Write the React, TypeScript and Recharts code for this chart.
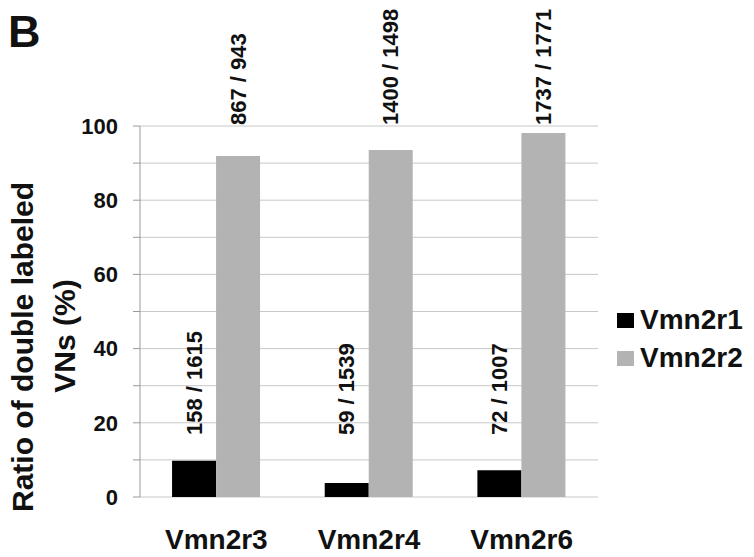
import React from 'react';
import { BarChart, Bar, XAxis, YAxis, CartesianGrid, Legend, LabelList } from 'recharts';

const categories = ['Vmn2r3', 'Vmn2r4', 'Vmn2r6'];
const vmn2r1 = [9.8, 3.8, 7.2];
const vmn2r2 = [91.9, 93.5, 98.1];
const vmn2r1Counts = ['158 / 1615', '59 / 1539', '72 / 1007'];
const vmn2r2Counts = ['867 / 943', '1400 / 1498', '1737 / 1771'];
const yTicks = [0, 10, 20, 30, 40, 50, 60, 70, 80, 90, 100];
const edgeTicks = [0, 1, 2, 3];

const FONT = '"Liberation Sans", Arial, Helvetica, sans-serif';
const INK = '#111';
const BLACK = '#000000';
const GREY = '#b3b3b3';

const W = 754;
const H = 557;
const MARGIN = { top: 126, right: 18, bottom: 0, left: 0 };
const PLOT_H = 371;

const data = categories.map((name, i) => ({
  name,
  Vmn2r1: vmn2r1[i],
  Vmn2r2: vmn2r2[i],
  r1Count: vmn2r1Counts[i],
  r2Count: vmn2r2Counts[i],
}));

// rotated count label, placed a fixed distance above the bar's base
const countLabel = (fromBase: number) => (props: any) => {
  const { x, y, width, height, value } = props;
  const cx = Number(x) + Number(width) / 2;
  const ty = Number(y) + Number(height) - fromBase;
  return (
    <text
      x={cx}
      y={ty}
      transform={`rotate(-90 ${cx} ${ty})`}
      textAnchor="start"
      dominantBaseline="central"
      fontFamily={FONT}
      fontWeight="bold"
      fontSize={22}
      fill={INK}
    >
      {value}
    </text>
  );
};

const renderYTitle = () => (
  <g fontFamily={FONT} fontWeight="bold" fill={INK}>
    <text x={8} y={47} fontSize={45}>B</text>
    <text x={33} y={347} fontSize={30} textAnchor="middle" transform="rotate(-90 33 347)">
      Ratio of double labeled
    </text>
    <text x={75} y={336} fontSize={30} textAnchor="middle" transform="rotate(-90 75 336)">
      VNs (%)
    </text>
  </g>
);

const renderLegend = () => (
  <div style={{ fontFamily: FONT, fontWeight: 'bold', fontSize: 28, color: INK }}>
    {[
      { name: 'Vmn2r1', color: BLACK },
      { name: 'Vmn2r2', color: GREY },
    ].map((it) => (
      <div key={it.name} style={{ display: 'flex', alignItems: 'center', height: 38 }}>
        <span style={{ width: 17, height: 15, background: it.color, marginRight: 6, marginLeft: 3 }} />
        <span>{it.name}</span>
      </div>
    ))}
  </div>
);

export default function App() {
  return (
    <div style={{ position: 'absolute', left: 0, top: 0, width: W, height: H, background: '#fff' }}>
      <BarChart width={W} height={H} data={data} margin={MARGIN} barCategoryGap="21%" barGap={0}>
        <CartesianGrid xAxisId="cat" vertical={false} stroke="#c8c8c8" />
        <XAxis
          xAxisId="edge"
          type="number"
          domain={[0, 3]}
          ticks={edgeTicks}
          tick={false}
          height={0}
          tickSize={10}
          stroke="#9a9a9a"
        />
        <XAxis
          xAxisId="cat"
          dataKey="name"
          height={60}
          axisLine={false}
          tickLine={false}
          tickSize={0}
          tickMargin={32}
          tick={{ fontFamily: FONT, fontWeight: 'bold', fontSize: 28, fill: INK }}
        />
        <YAxis
          width={140}
          domain={[0, 100]}
          ticks={yTicks}
          interval={0}
          tickSize={7}
          tickMargin={15}
          stroke="#9a9a9a"
          tickFormatter={(v: number) => (v % 20 === 0 ? String(v) : '')}
          tick={{ fontFamily: FONT, fontWeight: 'bold', fontSize: 22, fill: INK }}
          label={renderYTitle}
        />
        <Legend
          layout="vertical"
          align="right"
          verticalAlign="middle"
          content={renderLegend}
          wrapperStyle={{ left: 614, top: 301, width: 138 }}
        />
        <Bar xAxisId="cat" dataKey="Vmn2r1" fill={BLACK} isAnimationActive={false}>
          <LabelList dataKey="r1Count" content={countLabel(62)} />
        </Bar>
        <Bar xAxisId="cat" dataKey="Vmn2r2" fill={GREY} isAnimationActive={false}>
          <LabelList dataKey="r2Count" content={countLabel(PLOT_H + 1)} />
        </Bar>
      </BarChart>
    </div>
  );
}
